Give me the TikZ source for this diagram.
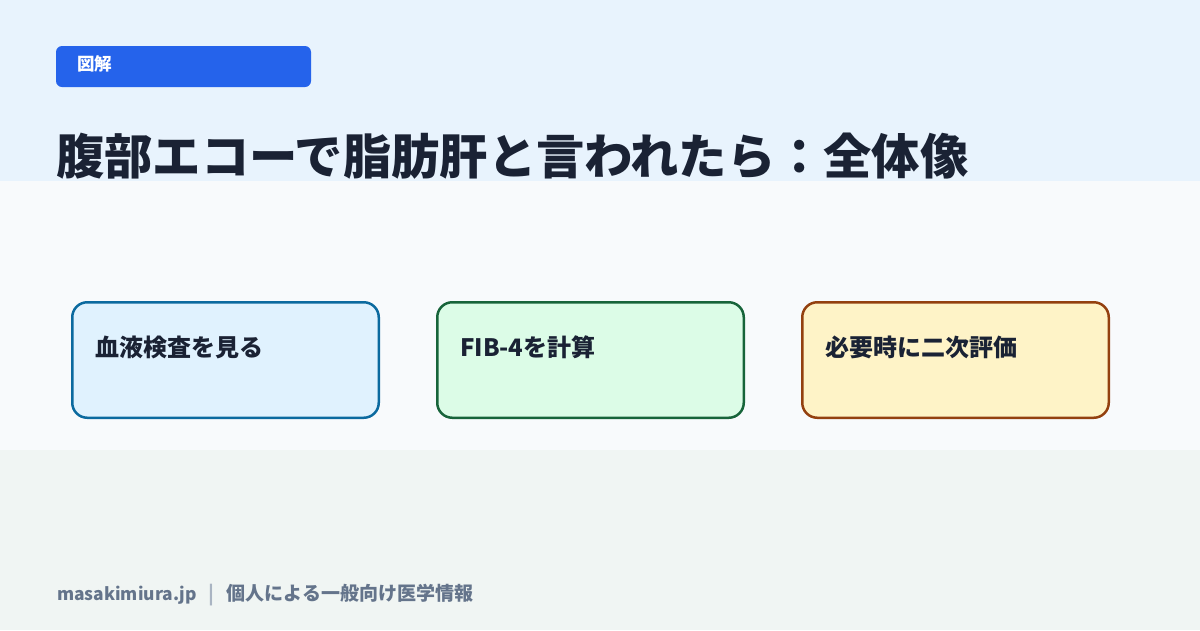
\documentclass[tikz,border=0pt]{standalone}
\usepackage{fontspec}
\newfontfamily\jp{Noto Sans CJK JP}
\definecolor{topbg}{HTML}{E8F3FD}
\definecolor{midbg}{HTML}{F8FAFC}
\definecolor{botbg}{HTML}{F0F5F3}
\definecolor{tagblue}{HTML}{2563EB}
\definecolor{ink}{HTML}{1A2234}
\definecolor{footgray}{HTML}{64748B}
\definecolor{sepgray}{HTML}{A9B4C2}
\definecolor{bluefill}{HTML}{E0F2FE}
\definecolor{blueline}{HTML}{0B6A9F}
\definecolor{greenfill}{HTML}{DCFCE7}
\definecolor{greenline}{HTML}{17643A}
\definecolor{yellowfill}{HTML}{FEF3C7}
\definecolor{yellowline}{HTML}{93400F}
\tikzset{
  stepcard/.style={draw, line width=2.5pt, rounded corners=15pt, minimum width=306.5pt, minimum height=115.5pt, anchor=north west, inner sep=0pt},
  cardlabel/.style={anchor=west, text=ink, font=\jp\bfseries\fontsize{24}{28}\selectfont, inner sep=0pt}
}
\begin{document}
\begin{tikzpicture}[x=1pt, y=-1pt]
      \useasboundingbox (0,0) rectangle (1200,630);
      % background bands
      \fill [topbg] (0,0) rectangle (1200,181);
      \fill [midbg] (0,181) rectangle (1200,450);
      \fill [botbg] (0,450) rectangle (1200,630);
      %
      \fill [tagblue, rounded corners=6pt] (56,46) rectangle (311,87);
      \node [anchor=west, text=white, font=\jp\bfseries\fontsize{17.5}{21}\selectfont, inner sep=0pt] (tag) at (77,64) {図解};
      \node [anchor=west, text=ink, font=\jp\bfseries\fontsize{48.3}{56}\selectfont, inner sep=0pt] (title) at (56,156) {腹部エコーで脂肪肝と言われたら：全体像};
      %
      \node [stepcard, fill=bluefill, draw=blueline] (blood) at (71,301) {};
      \node [stepcard, fill=greenfill, draw=greenline] (fib) at (436,301) {};
      \node [stepcard, fill=yellowfill, draw=yellowline] (eval) at (801,301) {};
      %
      \node [cardlabel] (bloodtext) at (95,347) {血液検査を見る};
      \node [cardlabel] (fibtext) at (460,347) {FIB-4を計算};
      \node [cardlabel] (evaltext) at (825,347) {必要時に二次評価};
      %
      \node [anchor=west, text=footgray, font=\jp\bfseries\fontsize{17.4}{22}\selectfont, inner sep=0pt] (footer) at (57,595) {masakimiura.jp\hspace{12pt}{\color{sepgray}\fontsize{19}{22}\selectfont|}\hspace{12pt}{\fontsize{19}{22}\selectfont 個人による一般向け医学情報}};
\end{tikzpicture}
\end{document}
